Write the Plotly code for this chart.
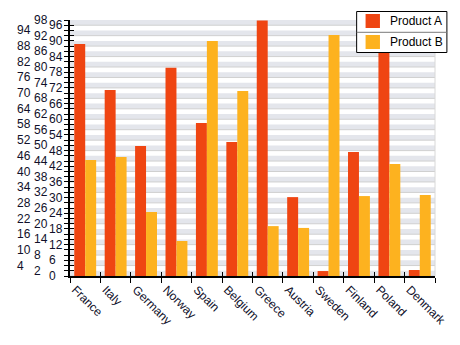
import plotly.graph_objects as go

countries = ["France", "Italy", "Germany", "Norway", "Spain", "Belgium",
             "Greece", "Austria", "Sweden", "Finland", "Poland", "Denmark"]
product_a = [88.8, 71.2, 49.8, 79.7, 58.6, 51.3, 97.8, 30.2, 1.9, 47.5, 86.0, 2.3]
product_b = [44.4, 45.6, 24.5, 13.4, 90.0, 70.8, 19.1, 18.4, 92.3, 30.6, 42.9, 31.0]
series_names = ["Product A", "Product B"]
y_ticks = [0, 2, 4, 6, 8, 10, 12, 14, 16, 18, 20, 22, 24, 26, 28, 30, 32, 34, 36,
           38, 40, 42, 44, 46, 48, 50, 52, 54, 56, 58, 60, 62, 64, 66, 68, 70, 72,
           74, 76, 78, 80, 82, 84, 86, 88, 90, 92, 94, 96, 98]
y_max = 98

COL_A = "#EF4512"
COL_B = "#FDB21F"
FONT = "Arial, Liberation Sans, sans-serif"

# plot area in pixels (for paper-coordinate decorations)
L, R, T, B = 70, 438, 20, 276
def px(x):
    return (x - L) / (R - L)
def py(y):
    return (B - y) / (B - T)

x_range = [-0.5, len(countries) - 0.5]

fig = go.Figure()
fig.add_trace(go.Bar(name=series_names[0], x=countries, y=product_a, marker_color=COL_A,
                     marker_line_width=0))
fig.add_trace(go.Bar(name=series_names[1], x=countries, y=product_b, marker_color=COL_B,
                     marker_line_width=0))
# invisible trace to hold inside ticks on overlay axes
fig.add_trace(go.Scatter(x=countries, y=[None] * len(countries), xaxis="x2", yaxis="y2",
                         mode="markers", showlegend=False, hoverinfo="skip",
                         marker=dict(opacity=0)))

shapes = []
for v in y_ticks:
    if v % 4 == 0 and v + 2 <= y_max:
        shapes.append(dict(type="rect", xref="paper", yref="y", x0=0, x1=1, y0=v, y1=v + 2,
                           fillcolor="#E4E6EC", line_width=0, layer="below"))
        shapes.append(dict(type="line", xref="paper", yref="y", x0=0, x1=1, y0=v, y1=v,
                           line=dict(color="#D0D0D0", width=1), layer="below"))
shapes.append(dict(type="line", xref="paper", yref="paper", x0=1, x1=1, y0=0, y1=1,
                   line=dict(color="#D8D8D8", width=1), layer="below"))

# custom legend box
shapes.append(dict(type="rect", xref="paper", yref="paper", x0=px(359), x1=px(450),
                   y0=py(52.5), y1=py(11.5), fillcolor="white",
                   line=dict(color="black", width=1), layer="above"))
shapes.append(dict(type="line", xref="paper", yref="paper", x0=px(359), x1=px(450),
                   y0=py(32.3), y1=py(32.3), line=dict(color="#7a7a7a", width=1)))
shapes.append(dict(type="rect", xref="paper", yref="paper", x0=px(368), x1=px(382.5),
                   y0=py(28), y1=py(14), fillcolor=COL_A, line_width=0))
shapes.append(dict(type="rect", xref="paper", yref="paper", x0=px(368), x1=px(382.5),
                   y0=py(49), y1=py(35), fillcolor=COL_B, line_width=0))

annotations = []
offsets = {0: -23, 1: -38, 2: -55}
for v in y_ticks:
    k = (v // 2) % 3
    annotations.append(dict(x=0, xref="paper", y=v, yref="y", text=str(v),
                            showarrow=False, xanchor="left", yanchor="middle",
                            xshift=offsets[k], font=dict(size=12, color="#10102a", family=FONT)))
for name, yc in zip(series_names, [21, 42]):
    annotations.append(dict(x=px(390.5), xref="paper", y=py(yc), yref="paper", text=name,
                            showarrow=False, xanchor="left", yanchor="middle",
                            font=dict(size=12, color="black", family=FONT)))

fig.update_layout(
    width=460, height=345,
    margin=dict(l=L, r=460 - R, t=T, b=345 - B),
    paper_bgcolor="white", plot_bgcolor="white",
    barmode="group", bargap=0.28, bargroupgap=0,
    font=dict(family=FONT, size=12, color="#10102a"),
    showlegend=False,
    xaxis=dict(type="category", range=x_range, showgrid=False, showline=True,
               linecolor="black", linewidth=2,
               ticks="outside", ticklen=5, tickwidth=1, tickcolor="black",
               tickson="boundaries", tickangle=45, ticklabelshift=-10,
               tickfont=dict(size=12, family=FONT, color="#10102a"), mirror=False),
    xaxis2=dict(type="category", overlaying="x", range=x_range, showgrid=False,
                showline=False, ticks="inside", ticklen=4, tickwidth=1, tickcolor="black",
                tickson="boundaries", showticklabels=False, side="bottom"),
    yaxis=dict(range=[0, y_max], tickvals=y_ticks, showticklabels=False, showgrid=False,
               zeroline=False, showline=True, linecolor="black", linewidth=2,
               ticks="outside", ticklen=4, tickwidth=1, tickcolor="black"),
    yaxis2=dict(range=[0, y_max], overlaying="y", tickvals=y_ticks, showticklabels=False,
                showgrid=False, zeroline=False, showline=False,
                ticks="inside", ticklen=4, tickwidth=1, tickcolor="black", side="left"),
    shapes=shapes,
    annotations=annotations,
)

fig.write_html("out.html")
